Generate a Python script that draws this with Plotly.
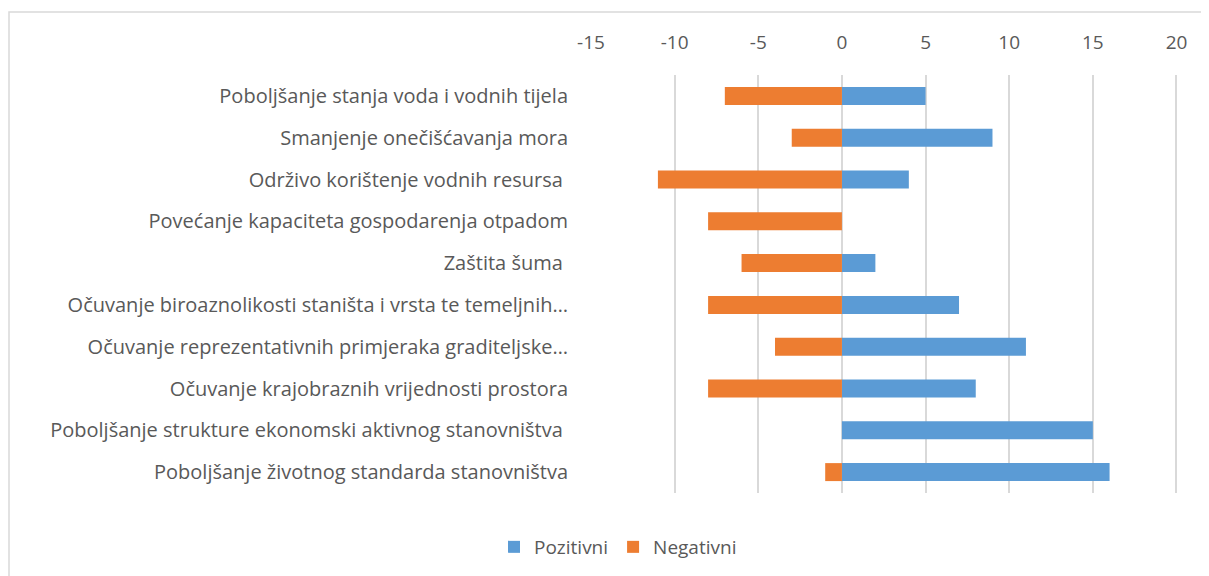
import plotly.graph_objects as go

categories = [
    "Poboljšanje stanja voda i vodnih tijela",
    "Smanjenje onečišćavanja mora",
    "Održivo korištenje vodnih resursa\u00a0",
    "Povećanje kapaciteta gospodarenja otpadom",
    "Zaštita šuma\u00a0",
    "Očuvanje biroaznolikosti staništa i vrsta te temeljnih…",
    "Očuvanje reprezentativnih primjeraka graditeljske…",
    "Očuvanje krajobraznih vrijednosti prostora",
    "Poboljšanje strukture ekonomski aktivnog stanovništva\u00a0",
    "Poboljšanje životnog standarda stanovništva",
]
pozitivni = [5, 9, 4, 0, 2, 7, 11, 8, 15, 16]
negativni = [-7, -3, -11, -8, -6, -8, -4, -8, 0, -1]
tick_vals = [-15, -10, -5, 0, 5, 10, 15, 20]
tick_text = ["-15", "-10", "-5", "0", "5", "10", "15", "20"]

FONT = "Open Sans"
FS = 20
TXT = "#595959"

fig = go.Figure()
fig.add_trace(go.Bar(
    name="Pozitivni", y=categories, x=pozitivni, orientation="h",
    marker=dict(color="#5B9BD5", line=dict(width=0)), width=0.43,
))
fig.add_trace(go.Bar(
    name="Negativni", y=categories, x=negativni, orientation="h",
    marker=dict(color="#ED7D31", line=dict(width=0)), width=0.43,
))

# page has an 8px body margin; figure is laid out in figure-local pixels
OFF = 8
W, H = 1209 - OFF, 576 - OFF
L, T = 591 - OFF, 75 - OFF
pw, ph = 588, 418
R, B = W - L - pw, H - T - ph

fig.update_layout(
    width=W, height=H,
    margin=dict(l=L, r=R, t=T, b=B, autoexpand=False),
    barmode="relative",
    paper_bgcolor="white", plot_bgcolor="white",
    font=dict(family=FONT, size=FS, color=TXT),
    showlegend=True,
    legend=dict(
        orientation="h", x=(618 - OFF - L) / pw, xanchor="center",
        y=-(547 - OFF - (T + ph)) / ph, yanchor="middle",
        font=dict(family=FONT, size=FS - 1, color=TXT),
        traceorder="normal",
    ),
    xaxis=dict(
        range=[-15, 20.15], tickvals=tick_vals, ticktext=tick_text, side="top",
        showgrid=True, gridcolor="#D9D9D9", gridwidth=1.5,
        zeroline=True, zerolinecolor="#D9D9D9", zerolinewidth=1.5,
        showline=False, ticks="", ticklabelstandoff=21, automargin=False,
        tickfont=dict(family=FONT, size=FS - 1, color=TXT),
    ),
    yaxis=dict(
        categoryorder="array", categoryarray=categories,
        autorange="reversed", showgrid=False, showline=False, ticks="",
        ticklabelstandoff=22, automargin=False,
        tickfont=dict(family=FONT, size=FS, color=TXT),
    ),
    shapes=[dict(
        type="rect", xref="paper", yref="paper",
        x0=(9 - OFF - L) / pw, x1=(W + 10 - L) / pw,
        y0=-(H + 10 - (T + ph)) / ph, y1=1 + (T - (12 - OFF)) / ph,
        line=dict(color="#D9D9D9", width=1.5), layer="below",
    )],
)

fig.write_html("out.html")
